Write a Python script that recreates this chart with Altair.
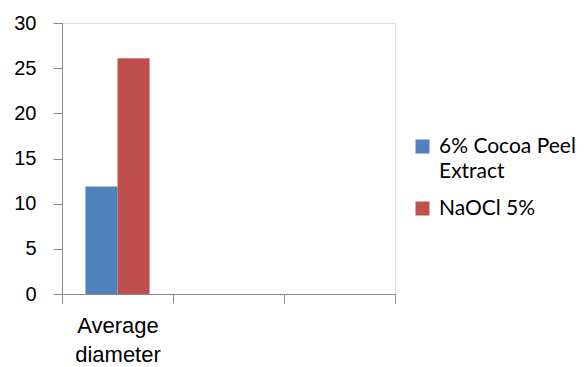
import altair as alt
import pandas as pd

categories = ["Average diameter", "cat2", "cat3"]
series = ["6% Cocoa Peel Extract", "NaOCl 5%"]
values = [11.9, 26.1]
colors = ["#4F81BD", "#C0504D"]

df = pd.DataFrame({
    "category": [categories[0]] * len(series),
    "series": series,
    "value": values,
})

FONT = "Lato"
AXIS_COLOR = "#868686"

chart = alt.Chart(df).mark_bar().encode(
    x=alt.X("category:N", scale=alt.Scale(domain=categories, paddingInner=0, paddingOuter=0),
            axis=alt.Axis(title=None, labelAngle=0, tickBand="extent", tickSize=9,
                          labelExpr="datum.value == 'Average diameter' ? ['Average', 'diameter'] : ''",
                          labelLineHeight=29, labelPadding=12, labelBaseline="top", labelFontSize=22)),
    xOffset=alt.XOffset("series:N", scale=alt.Scale(domain=series, paddingOuter=0.73, paddingInner=0)),
    y=alt.Y("value:Q", scale=alt.Scale(domain=[0, 30]),
            axis=alt.Axis(title=None, values=[0, 5, 10, 15, 20, 25, 30], tickSize=9, labelPadding=17,
                          grid=False, labelFontSize=20)),
    color=alt.Color("series:N", scale=alt.Scale(domain=series, range=colors),
                    legend=alt.Legend(title=None, orient="none", legendX=350, legendY=113,
                                      symbolType="square", symbolSize=196, symbolStrokeWidth=0,
                                      labelExpr="datum.label == '6% Cocoa Peel Extract' ? ['6% Cocoa Peel', 'Extract'] : datum.label",
                                      rowPadding=15, labelOffset=6,
                                      labelFontSize=21, labelFont=FONT, labelColor="#000000",
                                      labelLimit=300)),
).properties(
    width=333, height=271,
    padding={"left": 62, "top": 23, "right": 189, "bottom": 73},
    autosize=alt.AutoSizeParams(type="none"),
).configure_axis(
    domainColor=AXIS_COLOR, tickColor=AXIS_COLOR, domainWidth=1, tickWidth=1,
    labelFont=FONT, labelColor="#000000",
).configure_view(stroke=None).configure(
    style={"guide-label": {"lineHeight": 25}}
)

chart.save("out.html", embed_options={"renderer": "svg", "actions": False})
